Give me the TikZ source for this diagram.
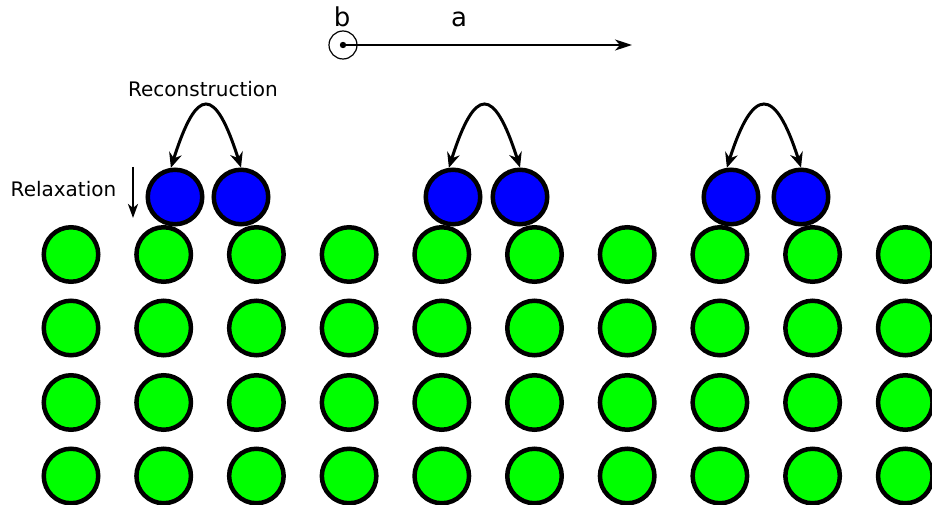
\documentclass[tikz,border=0pt]{standalone}
\usepackage{fontspec}
\setmainfont{DejaVu Sans}
\usetikzlibrary{arrows.meta}
\definecolor{bulkgreen}{RGB}{0,255,0}
\definecolor{surfblue}{RGB}{0,0,255}

\begin{document}
\begin{tikzpicture}[x=1pt, y=-1pt,
    bulk/.style = {draw, circle, line width=4.5pt, fill=bulkgreen, minimum size=54.5pt, inner sep=0pt},
    surf/.style = {draw, circle, line width=4.5pt, fill=surfblue, minimum size=54.5pt, inner sep=0pt},
    recon/.style = {line width=3pt, {Stealth[length=15pt,width=13pt,inset=5pt]}-{Stealth[length=15pt,width=13pt,inset=5pt]}},
    relax/.style = {line width=2.5pt, -{Stealth[length=14pt,width=10pt,inset=4pt]}},
    axis/.style = {line width=2.2pt, -{Stealth[length=17pt,width=11pt,inset=5pt]}},
    txt/.style = {font=\fontsize{20}{24}\selectfont, inner sep=0pt, anchor=base},
    axtxt/.style = {font=\fontsize{26}{31}\selectfont, inner sep=0pt, anchor=base}]
        \useasboundingbox (0,0) rectangle (932,505);
        % bulk atoms
        \foreach \r/\y in {1/254.5, 2/328, 3/402.5, 4/476}
            \foreach \c in {0,...,9}
                \node[bulk] (g-\r-\c) at ({71+92.7*\c},\y) {};
        % surface dimers
        \foreach \p/\xa/\xb in {1/175/241, 2/453/520, 3/731/801} {
            \node[surf] (s\p a) at (\xa,197) {};
            \node[surf] (s\p b) at (\xb,197) {};
            \draw[recon] (s\p a.98) .. controls +(26,-82) and +(-26,-82) .. (s\p b.90);
        }
        \node[txt] (recon) at (203,97) {Reconstruction};
        \node[txt] (relaxlbl) at (63.5,197) {Relaxation};
        \coordinate (relax top) at (133,167);
        \coordinate (relax end) at (133,218);
        \draw[relax] (relax top) -- (relax end);
        % axes
        \node[draw, circle, line width=1.2pt, minimum size=28pt, inner sep=0pt] (b axis) at (343,45) {};
        \fill (b axis.center) circle (3.2pt);
        \coordinate (a tip) at (632,45);
        \draw[axis] (b axis.center) -- (a tip);
        \node[axtxt] (b lbl) at (342,27) {b};
        \node[axtxt] (a lbl) at (459,27) {a};
\end{tikzpicture}
\end{document}
